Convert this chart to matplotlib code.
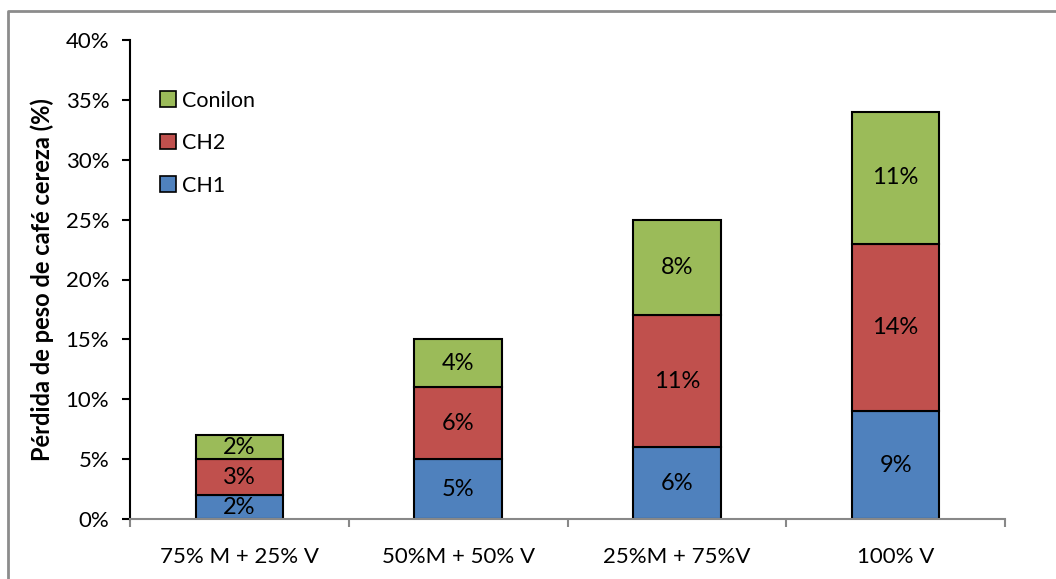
import matplotlib
matplotlib.use('Agg')
import matplotlib.pyplot as plt
from matplotlib.patches import Patch
from matplotlib.lines import Line2D
import numpy as np

categories = ['75% M + 25% V', '50%M + 50% V', '25%M + 75%V', '100% V']
ch1 = [2, 5, 6, 9]
ch2 = [3, 6, 11, 14]
conilon = [2, 4, 8, 11]
series_names = ['CH1', 'CH2', 'Conilon']
colors = ['#4F81BD', '#C0504D', '#9BBB59']
y_ticks = [0, 5, 10, 15, 20, 25, 30, 35, 40]

plt.rcParams['font.family'] = ['Lato', 'DejaVu Sans']

fig = plt.figure(figsize=(10.56, 5.79), dpi=100)
ax = fig.add_axes([130 / 1056, 1 - 519 / 579, 875 / 1056, 479 / 579])

x = np.arange(len(categories))
bottom = np.zeros(len(categories))
for name, vals, c in zip(series_names, [ch1, ch2, conilon], colors):
    ax.bar(x, vals, 0.4, bottom=bottom, color=c, edgecolor='black',
           linewidth=1.5, label=name, zorder=3)
    for xi, b, v in zip(x, bottom, vals):
        ax.text(xi, b + v / 2, f'{v}%', ha='center', va='center',
                fontsize=17, zorder=4)
    bottom += vals

ax.set_xlim(-0.5, len(categories) - 0.5)
ax.set_ylim(0, 40)
ax.set_yticks(y_ticks)
ax.set_yticklabels([f'{t}%' for t in y_ticks], fontsize=16)
ax.set_xticks(x)
ax.set_xticklabels(categories, fontsize=16)
ax.set_xticks(np.arange(-0.5, len(categories)), minor=True)
ax.tick_params(axis='x', which='major', length=0, pad=20)
ax.tick_params(axis='x', which='minor', length=6, width=1.5, color='#888888')
ax.tick_params(axis='y', length=6, width=1.5, pad=9)

for s in ['top', 'right']:
    ax.spines[s].set_visible(False)
ax.spines['left'].set_linewidth(1.5)
ax.spines['bottom'].set_color('#888888')
ax.spines['bottom'].set_linewidth(1.5)
ax.spines['bottom'].set_zorder(5)

ax.set_ylabel('Pérdida de peso de café cereza (%)', fontsize=17,
              fontweight='bold', labelpad=8)

handles = [Patch(facecolor=c, edgecolor='black', linewidth=1.2)
           for c in colors][::-1]
ax.legend(handles, series_names[::-1], loc='upper left',
          bbox_to_anchor=(0.012, 0.935), frameon=False, fontsize=15.5,
          handlelength=0.75, handleheight=0.75, handletextpad=0.3,
          labelspacing=1.05)

# chart area border (top and left edges)
fig.add_artist(Line2D([8 / 1056, 8 / 1056, 1.0], [0.0, 1 - 11 / 579, 1 - 11 / 579],
                      transform=fig.transFigure, color='#8c8c8c', linewidth=2))

fig.savefig('out.png', dpi=100)
